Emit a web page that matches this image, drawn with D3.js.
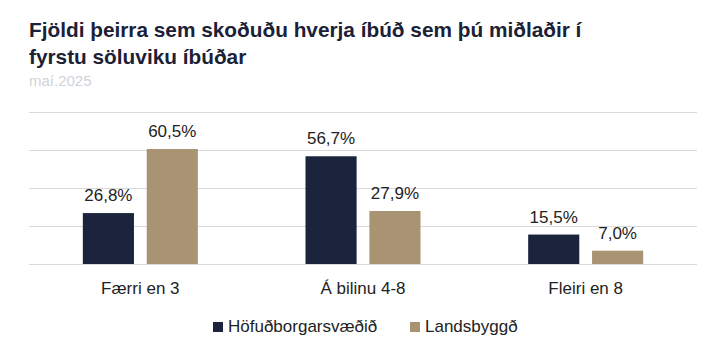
<!DOCTYPE html>
<html><head><meta charset="utf-8">
<script src="https://cdn.jsdelivr.net/npm/d3@7"></script>
<style>body{margin:0;background:#fff}svg{display:block}</style>
</head><body>
<svg id="c" width="713" height="357"></svg>
<script>
const categories = ["Færri en 3", "Á bilinu 4-8", "Fleiri en 8"];
const seriesNames = ["Höfuðborgarsvæðið", "Landsbyggð"];
const hofudborg = [26.8, 56.7, 15.5];
const landsbyggd = [60.5, 27.9, 7.0];
const gridTicks = [0, 20, 40, 60, 80];
const titleLines = ["Fjöldi þeirra sem skoðuðu hverja íbúð sem þú miðlaðir í", "fyrstu söluviku íbúðar"];
const subtitle = "maí.2025";
const colors = ["#1b233d", "#a89373"];

(function(){
const svg = d3.select("#c");
const font = "Liberation Sans, Arial, sans-serif";
const pl = 29, pr = 697, pt = 112, pb = 264;

svg.selectAll("text.title").data(titleLines).join("text").attr("class", "title")
  .attr("x", pl).attr("y", (d,i) => 37 + i*27)
  .attr("font-family", font).attr("font-weight", "bold").attr("font-size", 20.8)
  .attr("fill", "#1b2136").text(d => d);
svg.append("text").attr("x", pl).attr("y", 86).attr("font-family", font)
  .attr("font-size", 15).attr("fill", "#cfd3da").text(subtitle);

const y = d3.scaleLinear().domain([0, 80]).range([pb, pt]);
const x0 = d3.scaleBand().domain(categories).range([pl, pr]).paddingInner(0).paddingOuter(0);
const x1 = d3.scaleBand().domain(seriesNames).range([0, 115]).paddingInner(0.2);

svg.append("g").selectAll("line").data(gridTicks).join("line")
  .attr("x1", pl).attr("x2", pr)
  .attr("y1", d => Math.round(y(d)) + 0.5).attr("y2", d => Math.round(y(d)) + 0.5)
  .attr("stroke", "#d9d9d9").attr("stroke-width", 1);

const rows = categories.map((c, i) => ({cat: c, vals: [hofudborg[i], landsbyggd[i]]}));
const g = svg.append("g").selectAll("g").data(rows).join("g")
  .attr("transform", d => `translate(${x0(d.cat) + x0.bandwidth()/2 - 57.5},0)`);
const cells = g.selectAll("g").data(d => d.vals.map((v, j) => ({v, s: seriesNames[j], j}))).join("g");
cells.append("rect")
  .attr("x", d => x1(d.s)).attr("width", x1.bandwidth())
  .attr("y", d => y(d.v)).attr("height", d => y(0) - y(d.v))
  .attr("fill", d => colors[d.j]);
cells.append("text")
  .attr("x", d => x1(d.s) + x1.bandwidth()/2).attr("y", d => y(d.v) - 12)
  .attr("text-anchor", "middle").attr("font-family", font).attr("font-size", 17)
  .attr("fill", "#222").text(d => d.v.toFixed(1).replace(".", ",") + "%");

svg.append("g").selectAll("text").data(categories).join("text")
  .attr("x", d => x0(d) + x0.bandwidth()/2).attr("y", 294)
  .attr("text-anchor", "middle").attr("font-family", font).attr("font-size", 17)
  .attr("fill", "#222").text(d => d);

const legX = [213, 410];
const lg = svg.append("g").selectAll("g").data(seriesNames).join("g")
  .attr("transform", (d,i) => `translate(${legX[i]},0)`);
lg.append("rect").attr("x", 0).attr("y", 322).attr("width", 10).attr("height", 10)
  .attr("fill", (d,i) => colors[i]);
lg.append("text").attr("x", 15).attr("y", 332).attr("font-family", font).attr("font-size", 17)
  .attr("fill", "#222").text(d => d);
})();
</script>
</body></html>
